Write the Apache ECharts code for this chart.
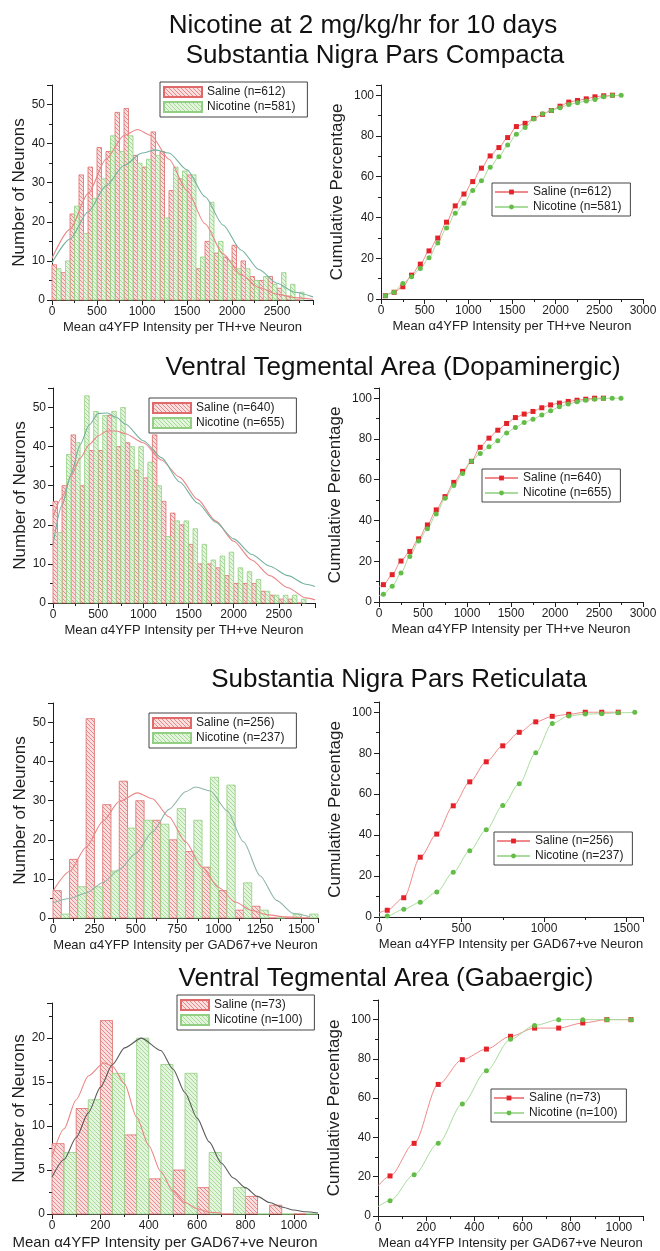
<!DOCTYPE html>
<html>
<head>
<meta charset="utf-8">
<script src="https://cdn.jsdelivr.net/npm/echarts@6/dist/echarts.min.js"></script>
<style>
html, body { margin: 0; padding: 0; background: #fff; }
#chart { width: 660px; height: 1251px; }
</style>
</head>
<body>
<div id="chart"></div>
<script>
'use strict';

// ---- histogram bins (start of each 100-wide bin) ----
var thBins = [0, 100, 200, 300, 400, 500, 600, 700, 800, 900, 1000, 1100, 1200, 1300,
    1400, 1500, 1600, 1700, 1800, 1900, 2000, 2100, 2200, 2300, 2400, 2500, 2600, 2700];
var snrBins = [0, 100, 200, 300, 400, 500, 600, 700, 800, 900, 1000, 1100, 1200, 1300, 1400, 1500];
var gabaBins = [0, 100, 200, 300, 400, 500, 600, 700, 800, 900, 1000];

// SNc counts
var sncSaline = [9, 7, 22, 32, 34, 39, 38, 48, 49, 37, 34, 43, 38, 28, 31, 32, 8, 15, 12, 11, 14, 10, 6, 5, 6, 3, 1, 0];
var sncNicotine = [8, 10, 24, 17, 26, 31, 42, 38, 42, 35, 36, 37, 21, 34, 33, 32, 11, 25, 15, 10, 8, 8, 5, 6, 4, 7, 4, 2];
// VTA dopaminergic counts
var vtaSaline = [26, 30, 43, 30, 39, 39, 48, 40, 41, 34, 32, 43, 26, 23, 20, 15, 10, 10, 9, 7, 5, 5, 5, 3, 2, 1, 1, 0];
var vtaNicotine = [18, 38, 41, 53, 49, 48, 49, 50, 40, 40, 36, 30, 17, 21, 21, 19, 15, 11, 12, 13, 9, 8, 6, 3, 2, 2, 2, 1];
// SNr counts
var snrSaline = [7, 15, 51, 29, 35, 30, 25, 20, 17, 13, 7, 2, 3, 0, 0, 0];
var snrNicotine = [1, 8, 8, 12, 23, 25, 24, 28, 25, 36, 34, 9, 2, 0, 1, 1];
// VTA gabaergic counts
var gabaSaline = [8, 12, 22, 9, 4, 5, 3, 0, 2, 1, 0];
var gabaNicotine = [7, 13, 16, 20, 17, 16, 7, 3, 0, 0, 0];

// ---- fitted curves ----
var sncFitSalX = [0, 200, 400, 600, 800, 950, 1100, 1300, 1500, 1700, 1900, 2100, 2300, 2500, 2700, 2900];
var sncFitSalY = [10.7, 18.1, 27.2, 36.0, 42.1, 43.6, 42.1, 36.0, 28.0, 19.5, 11.8, 6.5, 3.2, 1.5, 0.6, 0.2];
var sncFitNicX = [0, 200, 400, 600, 800, 1000, 1150, 1300, 1500, 1700, 1900, 2100, 2300, 2500, 2700, 2900];
var sncFitNicY = [9.5, 15.6, 22.5, 29.2, 34.4, 37.6, 38.4, 37.6, 33.3, 26.4, 19.2, 12.8, 7.8, 4.3, 2.0, 0.8];
var vtaFitSalX = [0, 100, 200, 300, 400, 500, 600, 700, 800, 1000, 1200, 1400, 1600, 1800, 2000, 2200, 2400, 2600, 2800, 2900];
var vtaFitSalY = [22, 27, 32.5, 37, 40.5, 42.8, 44, 44, 43.3, 41, 36.6, 32.2, 26.5, 21, 15.8, 11, 7, 3.9, 1.3, 0.8];
var vtaFitNicX = [0, 100, 200, 300, 400, 500, 600, 700, 800, 1000, 1200, 1400, 1600, 1800, 2000, 2200, 2400, 2600, 2800, 2900];
var vtaFitNicY = [15, 25, 33, 40.5, 45.5, 48.5, 48.6, 47.5, 45.8, 41.5, 37.2, 31, 25.6, 20.7, 16.4, 12.4, 9.4, 7.0, 4.8, 4.2];
var snrFitSalX = [0, 100, 200, 300, 400, 510, 600, 700, 800, 900, 1000, 1100, 1200, 1300, 1400, 1500];
var snrFitSalY = [6.9, 11.9, 18.1, 24.7, 29.8, 32, 30.5, 25.9, 19.5, 13.0, 7.8, 4.1, 1.9, 0.8, 0.3, 0.1];
var snrFitNicX = [0, 100, 200, 300, 400, 500, 600, 700, 800, 860, 950, 1050, 1150, 1250, 1350, 1450, 1550];
var snrFitNicY = [3.9, 5.0, 6.4, 9.0, 12.4, 16.5, 22, 27.8, 32.3, 33.5, 32.5, 27.5, 19.5, 10.8, 4.5, 1.2, 0.3];
var gabaFitSalX = [0, 50, 100, 150, 215, 250, 300, 350, 400, 450, 500, 550, 600, 650, 700];
var gabaFitSalY = [6.5, 9.7, 13.0, 15.7, 17.2, 16.8, 14.8, 11.0, 7.8, 4.8, 2.6, 1.3, 0.6, 0.2, 0.1];
var gabaFitNicX = [0, 50, 100, 150, 200, 250, 300, 370, 450, 500, 550, 600, 650, 700, 750, 800, 850, 900, 950, 1000, 1050, 1100];
var gabaFitNicY = [4.2, 6.2, 8.7, 11.5, 14.4, 17.0, 18.9, 20, 18.6, 16.5, 13.8, 10.9, 8.2, 5.8, 4.1, 3.0, 2.0, 1.3, 0.8, 0.45, 0.25, 0.12];

// ---- cumulative percentages ----
var sncCumX = [50, 150, 250, 350, 450, 550, 650, 750, 850, 950, 1050, 1150, 1250, 1350,
    1450, 1550, 1650, 1750, 1850, 1950, 2050, 2150, 2250, 2350, 2450, 2550, 2650, 2750];
var sncCumSal = [1.6, 3.3, 6.0, 11.7, 17.1, 23.6, 29.9, 37.7, 45.7, 51.5, 57.6, 64.2, 70.2, 74.3,
    79.2, 84.6, 86.2, 88.6, 90.6, 92.5, 94.6, 96.6, 97.4, 98.2, 99.2, 99.7, 100];
var sncCumNic = [1.6, 3.3, 7.6, 10.9, 15.0, 20.3, 27.5, 34.8, 42.1, 47.0, 53.2, 58.0, 64.6, 69.8,
    75.5, 80.8, 84.1, 88.3, 90.9, 92.5, 93.8, 95.4, 96.3, 97.1, 97.9, 99.2, 99.8, 100];
var vtaCumX = [0, 50, 150, 250, 350, 450, 550, 650, 750, 850, 950, 1050, 1150, 1250, 1350,
    1450, 1550, 1650, 1750, 1850, 1950, 2050, 2150, 2250, 2350, 2450, 2550, 2650, 2750];
var vtaCumSal = [7.5, 8.5, 13.4, 20.1, 24.8, 31.0, 37.8, 45.2, 51.7, 58.7, 64.1, 69.0, 75.9, 80.4, 84.3,
    87.6, 90.5, 92.2, 93.5, 95.3, 96.7, 97.6, 98.4, 99.0, 99.5, 100, 100];
var vtaCumNic = [3, 3.8, 7.7, 14.2, 22.3, 29.9, 35.9, 43.2, 50.9, 57.1, 63.1, 69.0, 72.9, 76.2, 79.1,
    82.9, 85.6, 88.1, 89.7, 91.7, 93.8, 95.8, 97.1, 98.2, 99.0, 99.5, 99.8, 100, 100];
var snrCumX = [0, 50, 150, 250, 350, 450, 550, 650, 750, 850, 950, 1050, 1150, 1250, 1350, 1450, 1550];
var snrCumSal = [2, 3.3, 9.4, 29.2, 40.5, 54.3, 66.0, 75.8, 83.6, 90.2, 95.3, 98.0, 99.0, 100, 100, 100];
var snrCumNic = [0, 0.5, 3.8, 7.2, 12.2, 21.8, 32.4, 42.6, 54.4, 65.1, 80.2, 94.5, 98.2, 99.1, 99.3, 99.7, 100];
var gabaCumX = [0, 50, 150, 250, 350, 450, 550, 650, 750, 850, 950, 1050];
var gabaCumSal = [15.3, 20.4, 37, 67, 79.6, 85, 91.5, 95.7, 95.7, 98.3, 100, 100];
var gabaCumNic = [4.8, 7.8, 21, 37, 57, 74, 90, 97, 100, 100, 100, 100];

// ---- look ----
var FONT = 'Liberation Sans';
var INK = '#1e1e1e';
var RED_EDGE = '#e06a6a';
var GREEN_EDGE = '#93cf82';
var RED_MARK = '#e3222a';
var GREEN_MARK = '#64bd48';
var RED_LINE = '#f08a8a';
var GREEN_LINE = '#a9dc9c';

// diagonal hatch pattern used by the histogram columns
function hatch(bg, line) {
    var c = document.createElement('canvas');
    c.width = 4; c.height = 4;
    var g = c.getContext('2d');
    g.fillStyle = bg;
    g.fillRect(0, 0, 4, 4);
    g.strokeStyle = line;
    g.lineWidth = 1;
    g.beginPath();
    g.moveTo(-1, -1); g.lineTo(5, 5);
    g.moveTo(-1, 3); g.lineTo(1, 5);
    g.moveTo(3, -1); g.lineTo(5, 1);
    g.stroke();
    return { image: c, repeat: 'repeat' };
}
var redHatch = hatch('#fbdede', '#e98a8a');
var greenHatch = hatch('#e3f5dc', '#a6da96');

// panel plot areas
var grids = [
    { left: 52, top: 85, width: 261, height: 215 },
    { left: 381, top: 85, width: 262, height: 214 },
    { left: 53, top: 388, width: 262, height: 215 },
    { left: 379, top: 388, width: 264, height: 214 },
    { left: 53, top: 703, width: 265, height: 215 },
    { left: 379, top: 702, width: 264, height: 215 },
    { left: 52, top: 1003, width: 266, height: 215 },
    { left: 378, top: 1000, width: 265, height: 216 }
];

function xAx(gi, max, interval, name, nameSize, namePad) {
    return {
        type: 'value', gridIndex: gi, min: 0, max: max, interval: interval,
        name: name, nameLocation: 'middle', nameGap: 21,
        nameTextStyle: { fontSize: nameSize || 13, color: INK, fontFamily: FONT, padding: namePad || 0 },
        axisLine: { lineStyle: { color: INK, width: 1 } },
        axisTick: { length: 5, lineStyle: { color: INK } },
        minorTick: { show: true, splitNumber: 2, length: 3, lineStyle: { color: INK } },
        splitLine: { show: false },
        axisLabel: {
            fontSize: 12, color: INK, margin: 6, fontFamily: FONT,
            formatter: function (v) { return v % interval === 0 ? String(v) : ''; }
        }
    };
}
function yAx(gi, max, interval, name, gap) {
    return {
        type: 'value', gridIndex: gi, min: 0, max: max, interval: interval,
        name: name, nameLocation: 'middle', nameGap: gap,
        nameTextStyle: { fontSize: 17, color: INK, fontFamily: FONT },
        axisLine: { show: true, lineStyle: { color: INK, width: 1 } },
        axisTick: { show: true, length: 5, lineStyle: { color: INK } },
        minorTick: { show: true, splitNumber: 2, length: 3, lineStyle: { color: INK } },
        splitLine: { show: false },
        axisLabel: {
            fontSize: 12, color: INK, margin: 7, fontFamily: FONT,
            formatter: function (v) { return v % interval === 0 ? String(v) : ''; }
        }
    };
}

var TH = 'Mean \u03b14YFP Intensity per TH+ve Neuron';
var GAD = 'Mean \u03b14YFP Intensity per GAD67+ve Neuron';
var xAxes = [
    xAx(0, 2900, 500, TH), xAx(1, 3000, 500, TH),
    xAx(2, 2900, 500, TH), xAx(3, 3000, 500, TH),
    xAx(4, 1600, 250, GAD), xAx(5, 1600, 500, GAD),
    xAx(6, 1100, 200, GAD, 15, [0, 40, 0, 0]), xAx(7, 1100, 200, GAD)
];
var yAxes = [
    yAx(0, 55, 10, 'Number of Neurons', 23), yAx(1, 105, 20, 'Cumulative Percentage', 35),
    yAx(2, 55, 10, 'Number of Neurons', 23), yAx(3, 105, 20, 'Cumulative Percentage', 35),
    yAx(4, 55, 10, 'Number of Neurons', 23), yAx(5, 105, 20, 'Cumulative Percentage', 35),
    yAx(6, 24, 5, 'Number of Neurons', 23), yAx(7, 110, 20, 'Cumulative Percentage', 35)
];

// columns: saline in the first half of each bin, nicotine in the second half
function hist(name, bins, counts, offset, gi, fill, edge) {
    var data = bins.map(function (b, i) { return [b + offset, b + offset + 50, counts[i]]; });
    return {
        type: 'custom', name: name, xAxisIndex: gi, yAxisIndex: gi,
        itemStyle: { color: fill, borderColor: edge, borderWidth: 0.8 },
        encode: { x: [0, 1], y: 2 },
        data: data,
        z: 2,
        renderItem: function (params, api) {
            var top = api.coord([api.value(0), api.value(2)]);
            var bot = api.coord([api.value(1), 0]);
            return {
                type: 'rect',
                shape: { x: top[0], y: top[1], width: bot[0] - top[0], height: bot[1] - top[1] },
                style: { fill: fill, stroke: edge, lineWidth: 0.8 }
            };
        }
    };
}
function fit(xs, ys, gi, color) {
    return {
        type: 'line', xAxisIndex: gi, yAxisIndex: gi, z: 3,
        data: xs.map(function (x, i) { return [x, ys[i]]; }),
        smooth: 0.25, smoothMonotone: 'x', showSymbol: false, silent: true,
        lineStyle: { color: color, width: 1.1 }
    };
}
function cum(name, xs, ys, gi, symbol, mark, line) {
    return {
        type: 'line', name: name, xAxisIndex: gi, yAxisIndex: gi, z: 3,
        data: ys.map(function (y, i) {
            // the spline starts at the axis; no marker there
            return xs[i] === 0 ? { value: [0, y], symbol: 'none' } : [xs[i], y];
        }),
        smooth: 0.3, smoothMonotone: 'x',
        symbol: symbol, symbolSize: 5,
        itemStyle: { color: mark },
        lineStyle: { color: line, width: 1 }
    };
}

var series = [
    hist('Saline (n=612)', thBins, sncSaline, 0, 0, redHatch, RED_EDGE),
    hist('Nicotine (n=581)', thBins, sncNicotine, 50, 0, greenHatch, GREEN_EDGE),
    fit(sncFitSalX, sncFitSalY, 0, '#e98585'),
    fit(sncFitNicX, sncFitNicY, 0, '#74b2a0'),
    cum('Saline (n=612)|c', sncCumX, sncCumSal, 1, 'rect', RED_MARK, RED_LINE),
    cum('Nicotine (n=581)|c', sncCumX, sncCumNic, 1, 'circle', GREEN_MARK, GREEN_LINE),

    hist('Saline (n=640)', thBins, vtaSaline, 0, 2, redHatch, RED_EDGE),
    hist('Nicotine (n=655)', thBins, vtaNicotine, 50, 2, greenHatch, GREEN_EDGE),
    fit(vtaFitSalX, vtaFitSalY, 2, '#e98585'),
    fit(vtaFitNicX, vtaFitNicY, 2, '#74b2a0'),
    cum('Saline (n=640)|c', vtaCumX, vtaCumSal, 3, 'rect', RED_MARK, RED_LINE),
    cum('Nicotine (n=655)|c', vtaCumX, vtaCumNic, 3, 'circle', GREEN_MARK, GREEN_LINE),

    hist('Saline (n=256)', snrBins, snrSaline, 0, 4, redHatch, RED_EDGE),
    hist('Nicotine (n=237)', snrBins, snrNicotine, 50, 4, greenHatch, GREEN_EDGE),
    fit(snrFitSalX, snrFitSalY, 4, '#e98585'),
    fit(snrFitNicX, snrFitNicY, 4, '#8fb5a6'),
    cum('Saline (n=256)|c', snrCumX, snrCumSal, 5, 'rect', RED_MARK, RED_LINE),
    cum('Nicotine (n=237)|c', snrCumX, snrCumNic, 5, 'circle', GREEN_MARK, GREEN_LINE),

    hist('Saline (n=73)', gabaBins, gabaSaline, 0, 6, redHatch, RED_EDGE),
    hist('Nicotine (n=100)', gabaBins, gabaNicotine, 50, 6, greenHatch, GREEN_EDGE),
    fit(gabaFitSalX, gabaFitSalY, 6, '#e98585'),
    fit(gabaFitNicX, gabaFitNicY, 6, '#5a5a5a'),
    cum('Saline (n=73)|c', gabaCumX, gabaCumSal, 7, 'rect', RED_MARK, RED_LINE),
    cum('Nicotine (n=100)|c', gabaCumX, gabaCumNic, 7, 'circle', GREEN_MARK, GREEN_LINE)
];

function legend(names, left, top, histStyle, swatch) {
    return {
        data: names, left: left, top: top, orient: 'vertical',
        itemGap: 3, itemWidth: swatch, itemHeight: histStyle ? 10 : 6,
        icon: histStyle ? 'rect' : undefined,
        padding: histStyle ? [4, 12, 4, 3] : [3, 9, 3, 2],
        borderColor: '#444', borderWidth: 1, backgroundColor: '#fff',
        selectedMode: false,
        textStyle: { fontSize: 12, color: INK, fontFamily: FONT },
        formatter: function (n) { return n.split('|')[0]; }
    };
}

var option = {
    animation: false,
    backgroundColor: '#fff',
    textStyle: { fontFamily: FONT },
    grid: grids,
    xAxis: xAxes,
    yAxis: yAxes,
    legend: [
        legend(['Saline (n=612)', 'Nicotine (n=581)'], 160, 82, true, 38),
        legend(['Saline (n=612)|c', 'Nicotine (n=581)|c'], 492, 183, false, 33),
        legend(['Saline (n=640)', 'Nicotine (n=655)'], 149, 398, true, 38),
        legend(['Saline (n=640)|c', 'Nicotine (n=655)|c'], 482, 469, false, 33),
        legend(['Saline (n=256)', 'Nicotine (n=237)'], 149, 713, true, 38),
        legend(['Saline (n=256)|c', 'Nicotine (n=237)|c'], 494, 832, false, 33),
        legend(['Saline (n=73)', 'Nicotine (n=100)'], 177, 995, true, 28),
        legend(['Saline (n=73)|c', 'Nicotine (n=100)|c'], 491, 1089, false, 30)
    ],
    graphic: [
        ['Nicotine at 2 mg/kg/hr for 10 days', 363, 26],
        ['Substantia Nigra Pars Compacta', 375, 56],
        ['Ventral Tegmental Area (Dopaminergic)', 393, 368],
        ['Substantia Nigra Pars Reticulata', 399, 680],
        ['Ventral Tegmental Area (Gabaergic)', 386, 979]
    ].map(function (t) {
        return {
            type: 'text', x: t[1], y: t[2], silent: true,
            style: {
                text: t[0], fontSize: 26, fontFamily: FONT, fill: '#111',
                align: 'center', verticalAlign: 'middle',
                textAlign: 'center', textVerticalAlign: 'middle'
            }
        };
    }),
    series: series
};

var chart = echarts.init(document.getElementById('chart'), null, { renderer: 'canvas' });
chart.setOption(option);
</script>
</body>
</html>
